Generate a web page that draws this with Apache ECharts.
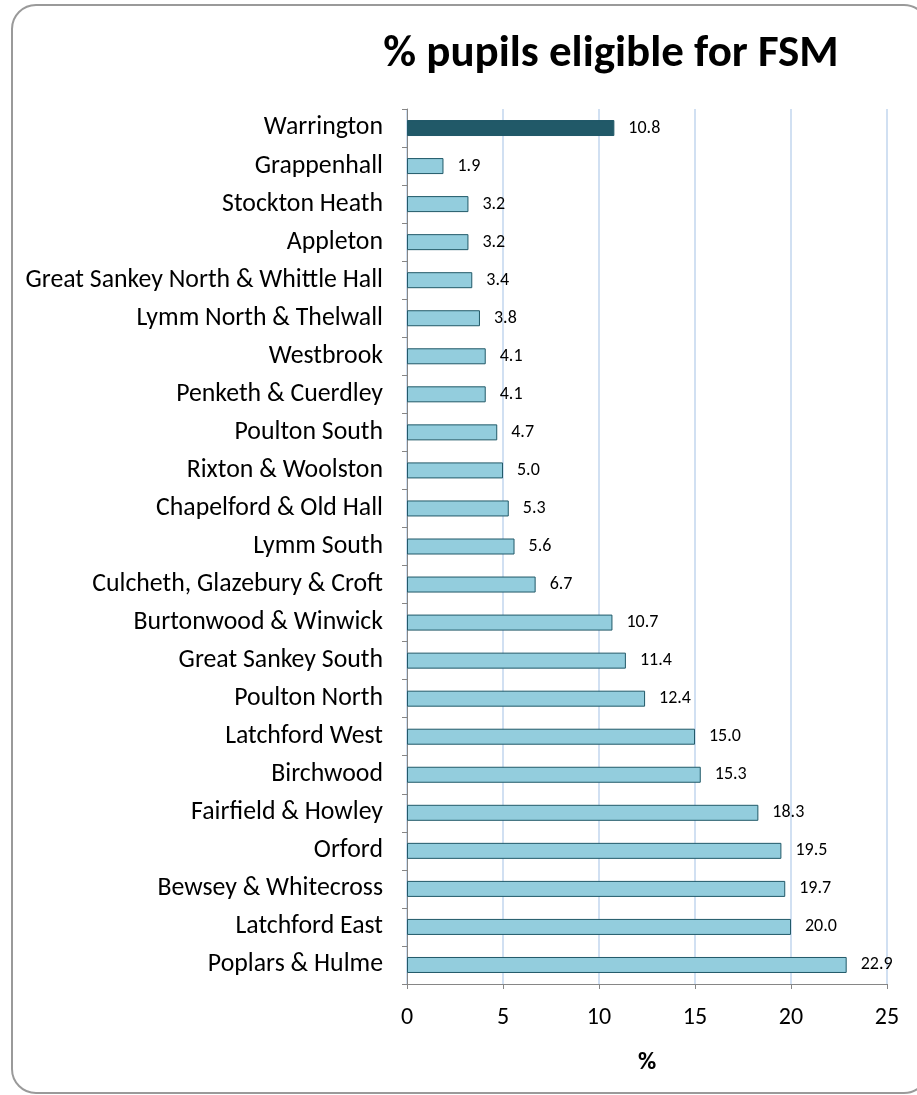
<!DOCTYPE html>
<html><head><meta charset="utf-8">
<script src="https://cdn.jsdelivr.net/npm/echarts@6/dist/echarts.min.js"></script>
<style>html,body{margin:0;padding:0;background:#fff}#c{width:917px;height:1095px}</style>
</head><body><div id="c"></div>
<script>
const categories = ["Warrington","Grappenhall","Stockton Heath","Appleton","Great Sankey North & Whittle Hall","Lymm North & Thelwall","Westbrook","Penketh & Cuerdley","Poulton South","Rixton & Woolston","Chapelford & Old Hall","Lymm South","Culcheth, Glazebury & Croft","Burtonwood & Winwick","Great Sankey South","Poulton North","Latchford West","Birchwood","Fairfield & Howley","Orford","Bewsey & Whitecross","Latchford East","Poplars & Hulme"];
const values = [10.8,1.9,3.2,3.2,3.4,3.8,4.1,4.1,4.7,5.0,5.3,5.6,6.7,10.7,11.4,12.4,15.0,15.3,18.3,19.5,19.7,20.0,22.9];
const xTicks = [0,5,10,15,20,25];
const title = "% pupils eligible for FSM";
const axisName = "%";

const chart = echarts.init(document.getElementById('c'), null, {renderer:'canvas'});
const font = "Calibri, Carlito, 'Open Sans', 'Noto Sans', sans-serif";
chart.setOption({
  animation:false,
  textStyle:{fontFamily:font},
  graphic:[{type:'rect',shape:{x:12,y:5,width:916,height:1088,r:24},style:{fill:'none',stroke:'#9a9a9a',lineWidth:2},z:-1}],
  title:{text:title,left:606,top:27,textAlign:'center',textStyle:{fontSize:45,fontWeight:'bold',color:'#000',fontFamily:font}},
  grid:{left:407,right:30,top:109,bottom:111,containLabel:false},
  xAxis:{type:'value',min:xTicks[0],max:xTicks[xTicks.length-1],interval:5,
    name:axisName,nameLocation:'middle',nameGap:66,nameTextStyle:{fontSize:25,fontWeight:'bold',color:'#000'},
    axisLine:{show:true,lineStyle:{color:'#868686',width:1}},
    axisTick:{show:true,length:5,lineStyle:{color:'#868686'}},
    axisLabel:{fontSize:24,color:'#000',margin:22},
    splitLine:{show:true,lineStyle:{color:'#c2d6ee',width:1.5}}},
  yAxis:{type:'category',data:categories,inverse:true,
    axisLine:{show:true,lineStyle:{color:'#868686',width:1}},
    axisTick:{show:true,length:5,lineStyle:{color:'#868686'}},
    axisLabel:{fontSize:25.8,color:'#000',margin:24,padding:[4,0,0,0]}},
  series:[{type:'bar',barWidth:16,
    data:values.map((v,i)=>({value:v,itemStyle:i===0?{color:'#215968',borderColor:'#215968',borderWidth:1}:{color:'#93cddd',borderColor:'#215968',borderWidth:1}})),
    label:{show:true,position:'right',distance:14,fontSize:18,color:'#000',formatter:p=>p.value.toFixed(1)}}]
});
</script></body></html>
